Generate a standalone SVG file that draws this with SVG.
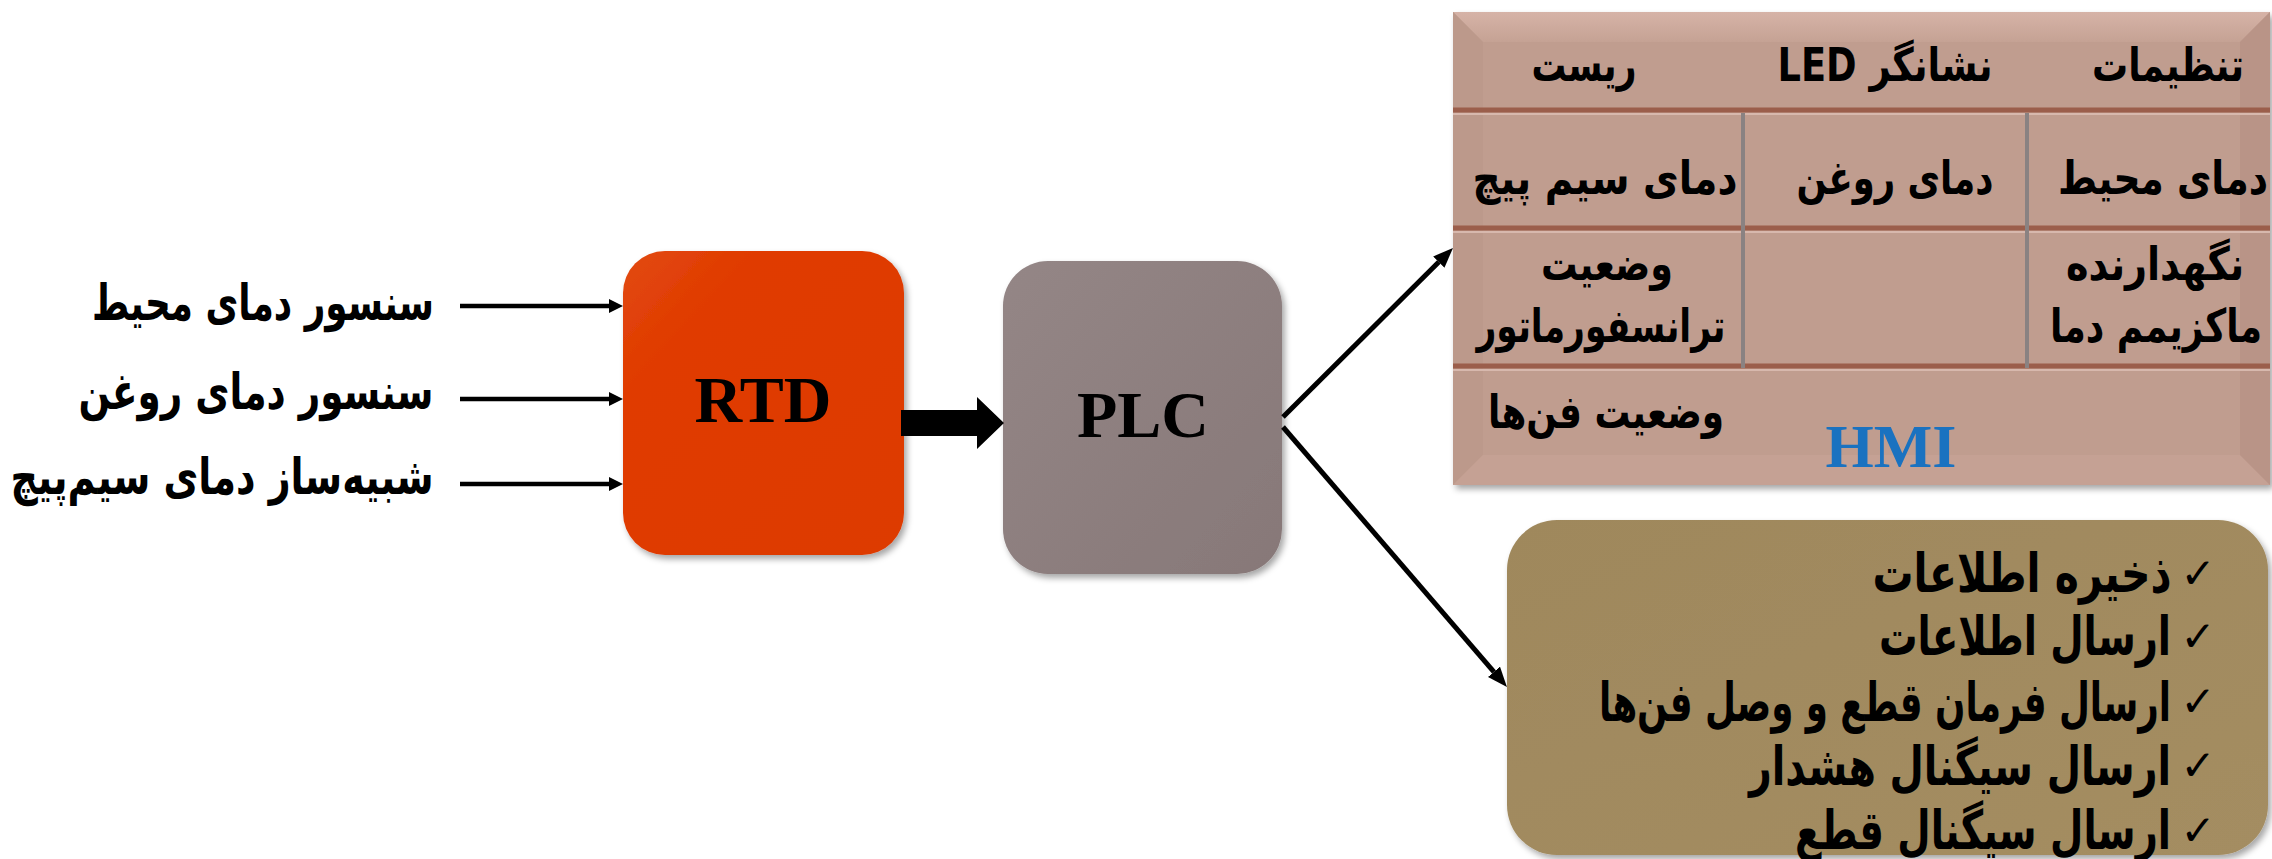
<svg xmlns="http://www.w3.org/2000/svg" width="2272" height="859" viewBox="0 0 2272 859">
<style>
.fa{font-family:"DejaVu Sans",sans-serif;font-weight:bold;fill:#000;direction:rtl;text-anchor:middle}
.en{font-family:"Liberation Serif","Times New Roman",serif;font-weight:bold;text-anchor:middle}
.conn{stroke:#000;fill:none}
.sep{stroke:#9b5e4b;stroke-width:5}
.hl{stroke:#d7b8ad;stroke-width:2}
.vsep{stroke:#8a8282;stroke-width:4}
.chk{font-family:"DejaVu Sans",sans-serif;font-size:42px;fill:#000;text-anchor:middle}
</style>
<defs>
<filter id="sh" x="-10%" y="-10%" width="125%" height="125%">
<feDropShadow dx="3" dy="4" stdDeviation="3" flood-color="#000" flood-opacity="0.35"/>
</filter>
<linearGradient id="gRtd" x1="0" y1="0" x2="1" y2="1">
<stop offset="0" stop-color="#e24a10"/>
<stop offset="0.25" stop-color="#e03a00"/>
<stop offset="1" stop-color="#dd3a02"/>
</linearGradient>
<linearGradient id="gPlc" x1="0" y1="0" x2="1" y2="1">
<stop offset="0" stop-color="#948686"/>
<stop offset="1" stop-color="#877878"/>
</linearGradient>
<linearGradient id="gOl" x1="0" y1="0" x2="1" y2="1">
<stop offset="0" stop-color="#9f885c"/>
<stop offset="1" stop-color="#a48d62"/>
</linearGradient>
<linearGradient id="gTop" x1="0" y1="0" x2="0" y2="1">
<stop offset="0" stop-color="#d6b3a7"/>
<stop offset="1" stop-color="#c5a294"/>
</linearGradient>
<marker id="ahS" markerUnits="userSpaceOnUse" markerWidth="14" markerHeight="14" refX="0" refY="7" orient="auto">
<path d="M0,0 L14,7 L0,14 z" fill="#000"/>
</marker>
<marker id="ahL" markerUnits="userSpaceOnUse" markerWidth="20" markerHeight="16" refX="0" refY="8" orient="auto">
<path d="M0,0 L20,8 L0,16 z" fill="#000"/>
</marker>
</defs>
<rect width="2272" height="859" fill="#fff"/>

<g id="inputs">
<text class="fa" x="263" y="320" font-size="50" textLength="342" lengthAdjust="spacingAndGlyphs">سنسور دمای محیط</text>
<text class="fa" x="256" y="409" font-size="50" textLength="355" lengthAdjust="spacingAndGlyphs">سنسور دمای روغن</text>
<text class="fa" x="222" y="494" font-size="50" textLength="423" lengthAdjust="spacingAndGlyphs">شبیه‌ساز دمای سیم‌پیچ</text>
</g>

<g id="rtd">
<rect x="623" y="251" width="281" height="304" rx="42" fill="url(#gRtd)" filter="url(#sh)"/>
<text class="en" x="763" y="422" font-size="66">RTD</text>
</g>

<g id="plc">
<rect x="1003" y="261" width="279" height="313" rx="45" fill="url(#gPlc)" filter="url(#sh)"/>
<text class="en" x="1143" y="437" font-size="66">PLC</text>
</g>

<g id="hmi">
<rect x="1453" y="12" width="817" height="473" fill="#c09d8f" filter="url(#sh)"/>
<polygon points="1453,12 2270,12 2240,42 1483,42" fill="url(#gTop)"/>
<polygon points="1453,12 1483,42 1483,455 1453,485" fill="#bc998b"/>
<polygon points="1453,485 1483,455 2240,455 2270,485" fill="#c5a194"/>
<polygon points="2270,12 2240,42 2240,455 2270,485" fill="#b99487"/>
<rect x="1483" y="42" width="757" height="413" fill="#c09d8f"/>
<line class="sep" x1="1453" y1="110" x2="2270" y2="110"/>
<line class="hl" x1="1453" y1="114" x2="2270" y2="114"/>
<line class="sep" x1="1453" y1="228" x2="2270" y2="228"/>
<line class="hl" x1="1453" y1="232" x2="2270" y2="232"/>
<line class="sep" x1="1453" y1="366" x2="2270" y2="366"/>
<line class="hl" x1="1453" y1="370" x2="2270" y2="370"/>
<line class="vsep" x1="1743" y1="113" x2="1743" y2="368"/>
<line class="vsep" x1="2027" y1="113" x2="2027" y2="368"/>
<text class="fa" x="2168" y="81" font-size="46" textLength="152" lengthAdjust="spacingAndGlyphs">تنظیمات</text>
<text class="fa" x="1885" y="81" font-size="46" textLength="215" lengthAdjust="spacingAndGlyphs">نشانگر LED</text>
<text class="fa" x="1584" y="81" font-size="46" textLength="105" lengthAdjust="spacingAndGlyphs">ریست</text>
<text class="fa" x="2163" y="194" font-size="46" textLength="210" lengthAdjust="spacingAndGlyphs">دمای محیط</text>
<text class="fa" x="1895" y="194" font-size="46" textLength="197" lengthAdjust="spacingAndGlyphs">دمای روغن</text>
<text class="fa" x="1605" y="194" font-size="46" textLength="265" lengthAdjust="spacingAndGlyphs">دمای سیم پیچ</text>
<text class="fa" x="2155" y="280" font-size="46" textLength="178" lengthAdjust="spacingAndGlyphs">نگهدارنده</text>
<text class="fa" x="2156" y="342" font-size="46" textLength="212" lengthAdjust="spacingAndGlyphs">ماکزیمم دما</text>
<text class="fa" x="1607" y="280" font-size="46" textLength="132" lengthAdjust="spacingAndGlyphs">وضعیت</text>
<text class="fa" x="1601" y="342" font-size="46" textLength="249" lengthAdjust="spacingAndGlyphs">ترانسفورماتور</text>
<text class="fa" x="1606" y="428" font-size="46" textLength="236" lengthAdjust="spacingAndGlyphs">وضعیت فن‌ها</text>
<text class="en" x="1891" y="467" font-size="62" fill="#1a72c0">HMI</text>
</g>

<g id="functions">
<rect x="1507" y="520" width="761" height="335" rx="50" fill="url(#gOl)" filter="url(#sh)"/>
<text class="chk" x="2198" y="588">✓</text>
<text class="chk" x="2198" y="651">✓</text>
<text class="chk" x="2198" y="716">✓</text>
<text class="chk" x="2198" y="780">✓</text>
<text class="chk" x="2198" y="845">✓</text>
<text class="fa" x="2022" y="592" font-size="54" textLength="299" lengthAdjust="spacingAndGlyphs">ذخیره اطلاعات</text>
<text class="fa" x="2025" y="655" font-size="54" textLength="292" lengthAdjust="spacingAndGlyphs">ارسال اطلاعات</text>
<text class="fa" x="1885" y="721" font-size="54" textLength="572" lengthAdjust="spacingAndGlyphs">ارسال فرمان قطع و وصل فن‌ها</text>
<text class="fa" x="1960" y="785" font-size="54" textLength="422" lengthAdjust="spacingAndGlyphs">ارسال سیگنال هشدار</text>
<text class="fa" x="1983" y="849" font-size="54" textLength="376" lengthAdjust="spacingAndGlyphs">ارسال سیگنال قطع</text>
</g>

<g id="connectors">
<line class="conn" x1="460" y1="306" x2="609" y2="306" stroke-width="4.5" marker-end="url(#ahS)"/>
<line class="conn" x1="460" y1="399" x2="609" y2="399" stroke-width="4.5" marker-end="url(#ahS)"/>
<line class="conn" x1="460" y1="484" x2="609" y2="484" stroke-width="4.5" marker-end="url(#ahS)"/>
<polygon points="901,410 977,410 977,397 1004,423 977,449 977,436 901,436" fill="#000"/>
<line class="conn" x1="1283" y1="417" x2="1438.8" y2="262.1" stroke-width="5" marker-end="url(#ahL)"/>
<line class="conn" x1="1283" y1="427" x2="1493.9" y2="671.8" stroke-width="5" marker-end="url(#ahL)"/>
</g>
</svg>
